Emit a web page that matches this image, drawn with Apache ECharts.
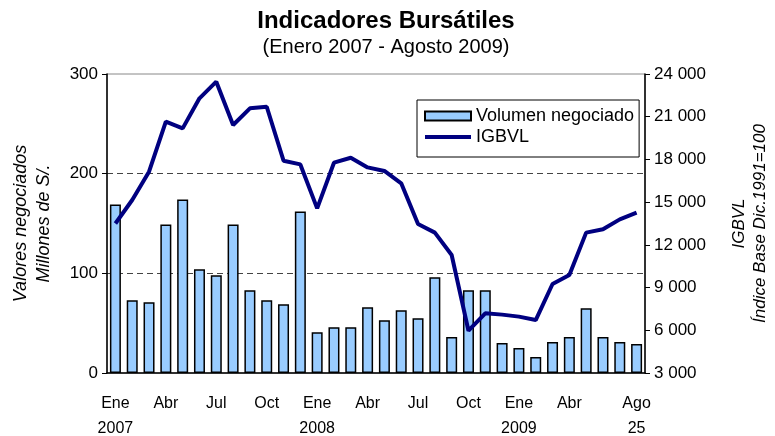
<!DOCTYPE html>
<html>
<head>
<meta charset="utf-8">
<script src="https://cdn.jsdelivr.net/npm/echarts@6/dist/echarts.min.js"></script>
<style>
	html, body { margin: 0; padding: 0; background: #fff; }
	#chart { width: 775px; height: 436px; }
</style>
</head>
<body>
<div id="chart"></div>
<script>
// months Ene 2007 - Ago 2009
var months = ["Ene", "Feb", "Mar", "Abr", "May", "Jun", "Jul", "Ago", "Set", "Oct", "Nov", "Dic",
	"Ene", "Feb", "Mar", "Abr", "May", "Jun", "Jul", "Ago", "Set", "Oct", "Nov", "Dic",
	"Ene", "Feb", "Mar", "Abr", "May", "Jun", "Jul", "Ago"];
var years = ["2007", "", "", "", "", "", "", "", "", "", "", "",
	"2008", "", "", "", "", "", "", "", "", "", "", "",
	"2009", "", "", "", "", "", "", "25"];
var labelIdx = [0, 3, 6, 9, 12, 15, 18, 21, 24, 27, 31];

var volumen = [169, 73, 71, 149, 174, 104, 98, 149, 83, 73, 69, 162,
	41, 46, 46, 66, 53, 63, 55, 96, 36, 83, 83, 30,
	25, 16, 31, 36, 65, 36, 31, 29];
var igbvl = [13500, 15150, 17140, 20650, 20180, 22290, 23460, 20420, 21590, 21700, 17910, 17650,
	14560, 17770, 18120, 17440, 17190, 16320, 13460, 12860, 11290, 5970, 7190, 7100,
	6960, 6720, 9250, 9880, 12860, 13090, 13790, 14260];

var font = "Liberation Sans";
var chart = echarts.init(document.getElementById("chart"));

chart.setOption({
	animation: false,
	textStyle: { fontFamily: font, color: "#000" },
	title: {
		text: "Indicadores Bursátiles",
		subtext: "(Enero 2007 - Agosto 2009)",
		left: 381,
		textAlign: "center",
		top: 4,
		itemGap: 4,
		textStyle: { fontFamily: font, fontSize: 24, fontWeight: "bold", color: "#000" },
		subtextStyle: { fontFamily: font, fontSize: 20, color: "#000" }
	},
	legend: {
		orient: "vertical",
		left: 417,
		top: 100,
		padding: [6, 5, 10, 6],
		itemGap: 1,
		itemWidth: 46,
		itemHeight: 9,
		backgroundColor: "#fff",
		borderColor: "#000",
		borderWidth: 1,
		textStyle: { fontFamily: font, fontSize: 18, color: "#000", lineHeight: 20 },
		data: [
			{ name: "Volumen negociado", icon: "rect" },
			{ name: "IGBVL", itemStyle: { opacity: 0 }, lineStyle: { width: 4 } }
		]
	},
	grid: {
		left: 107, right: 130, top: 74, bottom: 63,
		outerBoundsMode: "none",
		show: true, borderColor: "#888", borderWidth: 1
	},
	xAxis: {
		type: "category",
		data: months,
		axisLine: { lineStyle: { color: "#000", width: 1.5 } },
		axisTick: { show: false },
		axisLabel: {
			interval: function (i) { return labelIdx.indexOf(i) >= 0; },
			formatter: function (v, i) { return v + "\n" + years[i]; },
			fontFamily: font,
			fontSize: 16,
			color: "#000",
			lineHeight: 25,
			margin: 18
		}
	},
	yAxis: [
		{
			type: "value",
			min: 0,
			max: 300,
			interval: 100,
			name: "Valores negociados\nMillones de S/.",
			nameLocation: "middle",
			nameRotate: 90,
			nameGap: 52,
			nameTextStyle: { fontFamily: font, fontSize: 18, fontStyle: "italic", color: "#000", lineHeight: 23 },
			axisLine: { show: true, lineStyle: { color: "#000", width: 1.5 } },
			axisTick: { show: true, length: 5, lineStyle: { color: "#000" } },
			axisLabel: { fontFamily: font, fontSize: 17, color: "#000", margin: 9 },
			splitLine: {
				show: true,
				showMinLine: false,
				showMaxLine: false,
				lineStyle: { color: "#444", type: [6, 4], width: 1 }
			}
		},
		{
			type: "value",
			min: 3000,
			max: 24000,
			interval: 3000,
			name: "IGBVL\nÍndice Base Dic.1991=100",
			nameLocation: "middle",
			nameRotate: 90,
			nameGap: 84,
			nameTextStyle: { fontFamily: font, fontSize: 17, fontStyle: "italic", color: "#000", lineHeight: 21 },
			axisLine: { show: true, lineStyle: { color: "#000", width: 1.5 } },
			axisTick: { show: true, length: 5, lineStyle: { color: "#000" } },
			axisLabel: {
				fontFamily: font,
				fontSize: 17,
				color: "#000",
				margin: 9,
				formatter: function (v) {
					return String(v).replace(/\B(?=(\d{3})+(?!\d))/g, " ");
				}
			},
			splitLine: { show: false }
		}
	],
	series: [
		{
			name: "Volumen negociado",
			type: "bar",
			yAxisIndex: 0,
			barWidth: 11,
			itemStyle: { color: "#99ccff", borderColor: "#000", borderWidth: 1.5 },
			data: volumen
		},
		{
			name: "IGBVL",
			type: "line",
			yAxisIndex: 1,
			symbol: "none",
			lineStyle: { color: "#000080", width: 4 },
			itemStyle: { color: "#000080" },
			data: igbvl
		}
	]
});
</script>
</body>
</html>
